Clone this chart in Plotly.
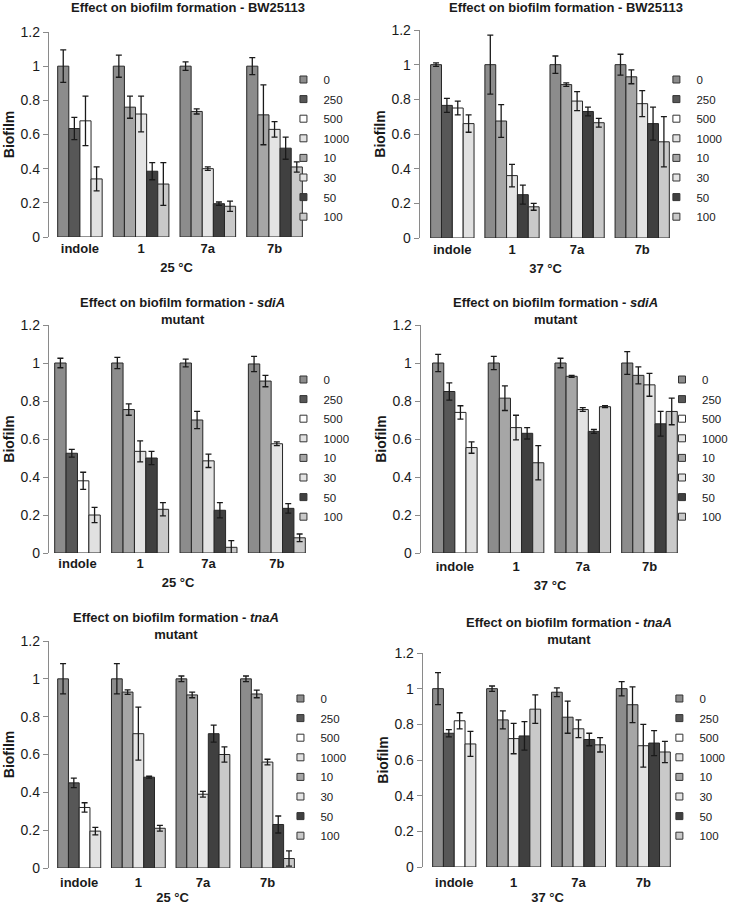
import plotly.graph_objects as go

# ---------------- data ----------------
groups = ["indole", "1", "7a", "7b"]
indole_conc = ["0", "250", "500", "1000"]
cmpd_conc = ["0", "10", "30", "50", "100"]
legend_order = ["0", "250", "500", "1000", "10", "30", "50", "100"]
y_tickvals = [0, 0.2, 0.4, 0.6, 0.8, 1.0, 1.2]
y_ticktext = ["0", "0.2", "0.4", "0.6", "0.8", "1", "1.2"]

panel_titles = [
    "Effect on biofilm formation - BW25113",
    "Effect on biofilm formation - BW25113",
    "Effect on biofilm formation - <i>sdiA</i><br>mutant",
    "Effect on biofilm formation - <i>sdiA</i><br>mutant",
    "Effect on biofilm formation - <i>tnaA</i><br>mutant",
    "Effect on biofilm formation - <i>tnaA</i><br>mutant",
]
panel_temps = ["25 °C", "37 °C", "25 °C", "37 °C", "25 °C", "37 °C"]

# means per group (indole, 1, 7a, 7b)
bw_25_mean = [[1.0, 0.635, 0.68, 0.34], [1.0, 0.76, 0.72, 0.385, 0.31],
              [1.0, 0.735, 0.40, 0.195, 0.18], [1.0, 0.715, 0.63, 0.52, 0.41]]
bw_25_err = [[0.095, 0.065, 0.145, 0.07], [0.065, 0.065, 0.105, 0.05, 0.125],
             [0.025, 0.015, 0.01, 0.01, 0.03], [0.05, 0.175, 0.045, 0.065, 0.03]]

bw_37_mean = [[1.0, 0.765, 0.75, 0.66], [1.0, 0.675, 0.36, 0.25, 0.18],
              [1.0, 0.885, 0.79, 0.73, 0.665], [1.0, 0.93, 0.775, 0.66, 0.555]]
bw_37_err = [[0.01, 0.04, 0.04, 0.05], [0.17, 0.095, 0.065, 0.055, 0.02],
             [0.05, 0.01, 0.055, 0.025, 0.025], [0.06, 0.04, 0.075, 0.095, 0.145]]

sdia_25_mean = [[1.0, 0.525, 0.38, 0.20], [1.0, 0.755, 0.535, 0.50, 0.23],
                [1.0, 0.70, 0.485, 0.225, 0.03], [0.995, 0.905, 0.575, 0.235, 0.08]]
sdia_25_err = [[0.025, 0.02, 0.045, 0.04], [0.03, 0.03, 0.055, 0.035, 0.035],
               [0.02, 0.045, 0.035, 0.04, 0.035], [0.04, 0.03, 0.01, 0.025, 0.02]]

sdia_37_mean = [[1.0, 0.85, 0.74, 0.555], [1.0, 0.815, 0.66, 0.63, 0.475],
                [1.0, 0.93, 0.755, 0.64, 0.77], [1.0, 0.935, 0.885, 0.68, 0.745]]
sdia_37_err = [[0.045, 0.045, 0.035, 0.03], [0.035, 0.065, 0.065, 0.03, 0.09],
               [0.025, 0.005, 0.01, 0.01, 0.005], [0.06, 0.045, 0.06, 0.065, 0.07]]

tnaa_25_mean = [[1.0, 0.45, 0.32, 0.195], [1.0, 0.93, 0.71, 0.48, 0.21],
                [1.0, 0.915, 0.39, 0.71, 0.60], [1.0, 0.92, 0.56, 0.23, 0.05]]
tnaa_25_err = [[0.08, 0.025, 0.025, 0.02], [0.08, 0.012, 0.14, 0.005, 0.015],
               [0.015, 0.015, 0.015, 0.045, 0.04], [0.015, 0.02, 0.015, 0.045, 0.04]]

tnaa_37_mean = [[1.0, 0.75, 0.82, 0.69], [1.0, 0.825, 0.72, 0.735, 0.885],
                [0.98, 0.84, 0.775, 0.715, 0.685], [1.0, 0.91, 0.68, 0.695, 0.645]]
tnaa_37_err = [[0.09, 0.02, 0.045, 0.07], [0.015, 0.05, 0.085, 0.08, 0.08],
               [0.025, 0.09, 0.05, 0.035, 0.04], [0.04, 0.1, 0.12, 0.07, 0.06]]

panel_means = [bw_25_mean, bw_37_mean, sdia_25_mean, sdia_37_mean, tnaa_25_mean, tnaa_37_mean]
panel_errs = [bw_25_err, bw_37_err, sdia_25_err, sdia_37_err, tnaa_25_err, tnaa_37_err]

# ---------------- style ----------------
colors = {"0": "#8c8c8c", "250": "#575757", "500": "#ffffff", "1000": "#e1e1e1",
          "10": "#a6a6a6", "30": "#e4e4e4", "50": "#404040", "100": "#c9c9c9"}
FONT = "Liberation Sans, Arial, sans-serif"
W, H = 733, 905

# layout geometry in pixels: axis x, first bar left, last bar right, y of 0, y of 1.2,
# title center x/y, legend text x, first legend item y, tick-label offset
geom = [
    dict(ax=49, first=58, last=304, y0=237, ytop=32, tx=189, ty=7, lx=325, ly=79, lo=2),
    dict(ax=422, first=433, last=673, y0=238, ytop=30, tx=569, ty=7, lx=700, ly=79, lo=2),
    dict(ax=49, first=55, last=307, y0=553, ytop=325, tx=183, ty=311, lx=325, ly=379, lo=1),
    dict(ax=423, first=435, last=681, y0=553, ytop=325, tx=559, ty=311, lx=706, ly=379, lo=4),
    dict(ax=49, first=58, last=296, y0=868, ytop=641, tx=177, ty=626, lx=322, ly=698, lo=5),
    dict(ax=425, first=435, last=674, y0=867, ytop=653, tx=572, ty=631, lx=703, ly=698, lo=6),
]

# bar slot positions: one empty slot between groups
group_conc = [indole_conc, cmpd_conc, cmpd_conc, cmpd_conc]
positions = []
centers = []
pos = 0
for gi, conc in enumerate(group_conc):
    positions.append(list(range(pos, pos + len(conc))))
    centers.append(pos + (len(conc) - 1) / 2)
    pos += len(conc) + 1
n_slots = positions[-1][-1] + 1

fig = go.Figure()
layout = dict(
    width=W, height=H, margin=dict(l=0, r=0, t=0, b=0),
    paper_bgcolor="white", plot_bgcolor="white",
    font=dict(family=FONT, color="#1a1a1a"),
    barmode="overlay", annotations=[],
)

for p in range(6):
    g = geom[p]
    k = "" if p == 0 else str(p + 1)
    xa, ya = "x" + k, "y" + k
    lg = "legend" + k
    means, errs = panel_means[p], panel_errs[p]
    for s in legend_order:
        xs, ys, es = [], [], []
        for gi, conc in enumerate(group_conc):
            if s in conc:
                ci = conc.index(s)
                xs.append(positions[gi][ci])
                ys.append(means[gi][ci])
                es.append(errs[gi][ci])
        fig.add_trace(go.Bar(
            x=xs, y=ys, width=1, xaxis=xa, yaxis=ya, showlegend=False,
            marker=dict(color=colors[s], line=dict(color="#262626", width=1)),
            error_y=dict(type="data", array=es, visible=True, color="#1a1a1a",
                         thickness=1.3, width=3),
            hoverinfo="y",
        ))
        # legend proxy
        fig.add_trace(go.Scatter(
            x=[None], y=[None], mode="markers", name=s, xaxis=xa, yaxis=ya,
            legend=lg, legendgroup=f"p{p}_{s}", showlegend=True,
            marker=dict(symbol="square", size=7, color=colors[s],
                        line=dict(color="#333333", width=1)),
        ))

    ppu = (g["last"] - g["first"]) / n_slots
    x_start = -0.5 - (g["first"] - g["ax"]) / ppu
    x_end = n_slots - 0.5 + 2 / ppu
    layout["xaxis" + k] = dict(
        domain=[g["ax"] / W, (g["last"] + 2) / W], anchor=ya,
        range=[x_start, x_end], showline=False, showgrid=False, zeroline=False,
        ticks="", tickvals=centers, ticktext=[f"<b>{t}</b>" for t in groups],
        tickfont=dict(size=13, color="#1a1a1a"), ticklabelstandoff=g["lo"],
        title=dict(text=f"<b>{panel_temps[p]}</b>", font=dict(size=13), standoff=7),
        fixedrange=True, automargin=False,
    )
    layout["yaxis" + k] = dict(
        domain=[1 - g["y0"] / H, 1 - g["ytop"] / H], anchor=xa,
        range=[0, 1.2], tickvals=y_tickvals, ticktext=y_ticktext,
        showline=True, linecolor="#8a8a8a", linewidth=1,
        ticks="outside", ticklen=5, tickcolor="#8a8a8a",
        showgrid=False, zeroline=False,
        tickfont=dict(size=14, color="#1a1a1a"),
        title=dict(text="<b>Biofilm</b>", font=dict(size=14), standoff=2),
        fixedrange=True, automargin=False,
    )
    layout[lg] = dict(
        x=(g["lx"] - 40) / W, y=1 - (g["ly"] - 14) / H, xanchor="left", yanchor="top",
        bgcolor="rgba(0,0,0,0)", borderwidth=0, font=dict(size=11.5, color="#1a1a1a"),
        tracegroupgap=0.6, itemclick=False, itemdoubleclick=False,
    )
    layout["annotations"].append(dict(
        text=f"<b>{panel_titles[p]}</b>", x=g["tx"] / W, y=1 - g["ty"] / H,
        xref="paper", yref="paper", xanchor="center", yanchor="middle",
        showarrow=False, font=dict(size=13, color="#1a1a1a"),
    ))

fig.update_layout(**layout)
fig.write_html("out.html", config={"displayModeBar": False},
               post_script="document.body.style.margin='0';")
